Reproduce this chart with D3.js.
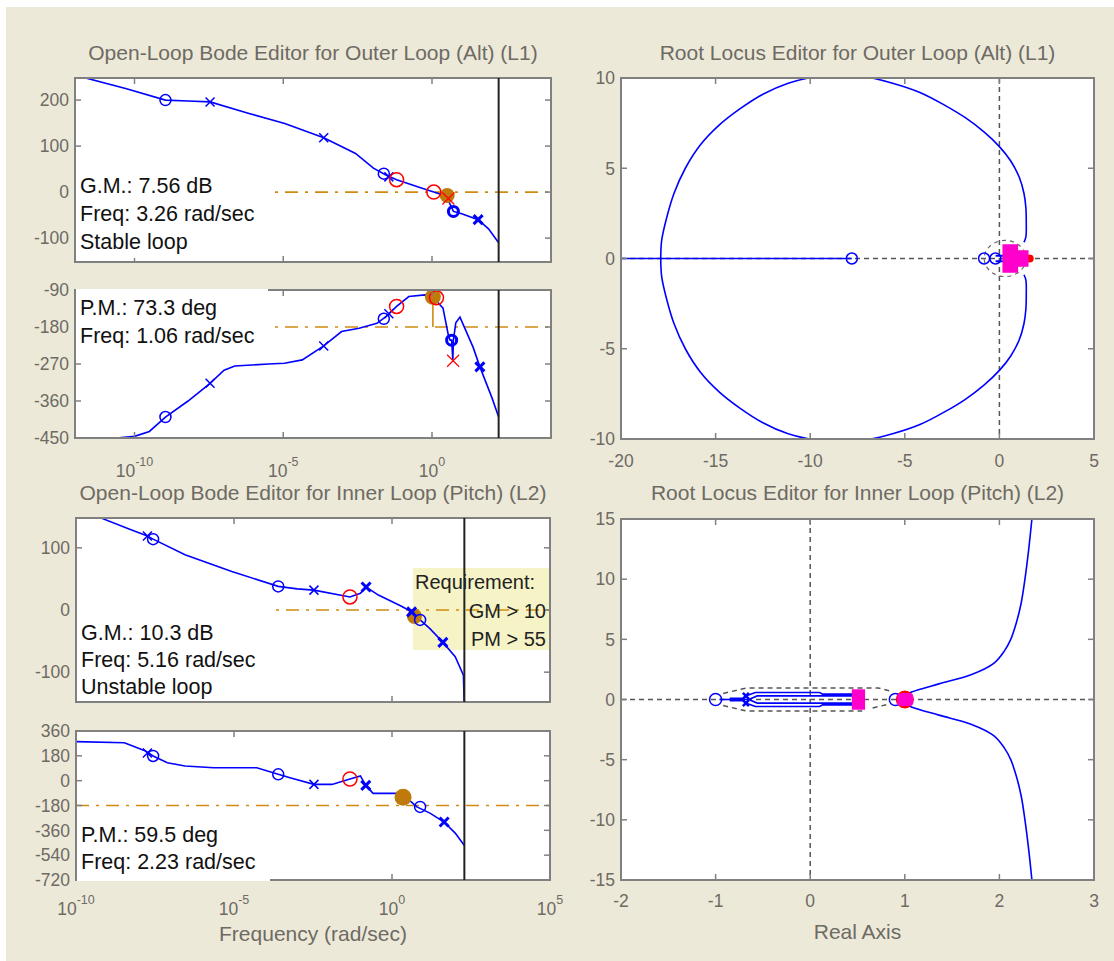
<!DOCTYPE html>
<html><head><meta charset="utf-8">
<script src="https://cdn.jsdelivr.net/npm/d3@7"></script>
<style>
body{margin:0;background:#ECE9D8;}
text{font-family:Arial,"Liberation Sans",sans-serif;}
</style>
</head><body>
<svg id="c" width="1114" height="961"></svg>
<script>
// ---------------- DATA ----------------
// Outer loop (L1) Bode magnitude: log10(freq rad/s), dB
const l1MagLogW = [-12.0, -11.58, -10.3, -8.96, -8.2, -7.46, -6.15, -4.95, -3.64, -2.57, -1.97, -1.55, -1.19, -0.18, 0.06, 0.48, 0.72, 1.0, 1.55, 1.9, 2.24];
const l1MagDb   = [255, 247, 225, 200, 198, 196, 171, 149, 118, 84, 52, 37, 27, 5, 0, -9, -42, -47, -60, -80, -110];
// Outer loop (L1) Bode phase: log10(freq), deg
const l1PhLogW = [-12.0, -10.6, -10.0, -9.5, -8.96, -8.2, -7.46, -6.99, -6.63, -5.5, -4.96, -4.36, -3.64, -3.04, -2.45, -1.85, -1.55, -1.19, -0.78, -0.24, 0.03, 0.37, 0.55, 0.61, 0.66, 0.70, 0.72, 0.80, 0.94, 1.38, 1.61, 2.02, 2.24];
const l1PhDeg  = [-450, -450, -446, -434, -399, -360, -317, -285, -275, -270, -268, -260, -226, -191, -183, -171, -155, -130, -106, -102, -107, -134, -200, -212, -212, -260, -212, -170, -156, -229, -277, -353, -399];
// L1 markers
const l1ZeroW = [-8.96, -1.62], l1ZeroMag = [200, 40], l1ZeroPh = [-399, -160];
const l1ZeroBoldW = [0.72], l1ZeroBoldMag = [-42], l1ZeroBoldPhW = [0.66], l1ZeroBoldPh = [-212];
const l1PoleW = [-7.46, -3.64, -1.45], l1PoleMag = [196, 118, 33], l1PolePh = [-317, -226, -148];
const l1PoleBoldW = [1.55], l1PoleBoldMag = [-60], l1PoleBoldPhW = [1.61], l1PoleBoldPh = [-277];
const l1CompZeroW = [-1.19, 0.06], l1CompZeroMag = [27, 0], l1CompZeroPhW = [-1.19, 0.15], l1CompZeroPh = [-130, -109];
const l1CompPoleW = [0.55], l1CompPoleMag = [-14], l1CompPolePhW = [0.71], l1CompPolePh = [-262];
const l1GmW = [0.51], l1GmDb = [-7.56];
const l1PmW = [0.03], l1PmDeg = [-106.7];
const l1NyqW = 2.24;

// Inner loop (L2) Bode magnitude
const l2MagLogW = [-10.0, -9.26, -8.3, -7.74, -7.56, -6.55, -5.07, -3.6, -3.0, -2.47, -1.33, -1.0, -0.82, -0.43, 0.3, 0.62, 0.89, 1.2, 1.61, 2.0, 2.26, 2.29];
const l2MagDb   = [175, 149, 130, 119, 114, 89, 62, 38, 34, 32, 21, 27, 37, 24, 6, -3, -16, -30, -52, -75, -105, -160];
// Inner loop (L2) Bode phase
const l2PhLogW = [-10.0, -8.47, -7.8, -7.56, -7.11, -6.55, -5.64, -4.28, -3.6, -3.2, -2.47, -1.9, -1.33, -1.0, -0.83, -0.6, 0.3, 0.59, 0.79, 1.2, 1.65, 2.0, 2.29];
const l2PhDeg  = [283, 275, 215, 179, 130, 106, 94, 94, 46, 20, -27, -27, 12, 34, -34, -92, -92, -150, -190, -235, -300, -380, -470];
// L2 markers
const l2ZeroW = [-7.56, -3.6, 0.89], l2ZeroMag = [114, 38, -16], l2ZeroPh = [179, 46, -190];
const l2PoleW = [-7.74, -2.47], l2PoleMag = [119, 32], l2PolePh = [200, -27];
const l2PoleBoldW = [-0.82, 0.62, 1.61], l2PoleBoldMag = [37, -3, -52];
const l2PoleBoldPhW = [-0.83, 1.65], l2PoleBoldPh = [-34, -300];
const l2CompZeroW = [-1.33], l2CompZeroMag = [21], l2CompZeroPh = [12];
const l2GmW = [0.71], l2GmDb = [-10.3];
const l2PmW = [0.35], l2PmDeg = [-120.5];
const l2NyqW = 2.29;

// Root locus L1 (upper half, mirrored)
const rl1Re = [1.3, 1.4, 1.42, 1.4, 1.3, 1.05, 0.6, 0.0, -0.8, -1.8, -2.9, -4.2, -5.6, -7.0, -8.4, -9.8, -11.2, -12.5, -13.7, -14.8, -15.8, -16.6, -17.2, -17.6, -17.85, -17.9];
const rl1Im = [0.9, 1.2, 2.0, 2.8, 3.6, 4.5, 5.4, 6.2, 7.0, 7.8, 8.5, 9.2, 9.7, 10.05, 10.2, 10.05, 9.7, 9.1, 8.3, 7.4, 6.3, 5.0, 3.6, 2.2, 1.0, 0];
const rl1RealRe = [-20, -7.8];
const rl1ZeroRe = [-7.8, -0.81, -0.21];
const rl1PinkRe = [0.2, 0.95, 0.95, 1.5, 1.5, 0.95, 0.95, 0.2];
const rl1PinkIm = [0.75, 0.75, 0.42, 0.42, -0.42, -0.42, -0.75, -0.75];

// Root locus L2
const rl2BranchRe = [1.0, 1.07, 1.36, 1.70, 1.94, 2.05, 2.12, 2.18, 2.23, 2.27, 2.31, 2.35];
const rl2BranchIm = [0.35, 0.62, 1.3, 2.05, 3.0, 4.0, 5.0, 6.4, 8.0, 10.0, 12.5, 15.5];
const rl2LoopOutRe = [-0.72, -0.66, -0.58, 0.1, 0.13, 0.5];
const rl2LoopOutIm = [0.05, 0.35, 0.58, 0.58, 0.45, 0.45];
const rl2LoopInRe = [-0.65, -0.56, 0.5];
const rl2LoopInIm = [0.0, 0.3, 0.3];
const rl2ZeroRe = [-1.0, 0.9];
const rl2PinkRe = [0.44, 0.58], rl2PinkIm = [-0.85, 0.85];

// Ticks
const bodeXTicks = [-10, -5, 0];
const bode2XTicks = [-10, -5, 0, 5];
const l1MagTicks = [-100, 0, 100, 200];
const l1PhTicks = [-450, -360, -270, -180, -90];
const l2MagTicks = [-100, 0, 100];
const l2PhTicks = [-720, -540, -360, -180, 0, 180, 360];
const rl1XTicks = [-20, -15, -10, -5, 0, 5];
const rl1YTicks = [-10, -5, 0, 5, 10];
const rl2XTicks = [-2, -1, 0, 1, 2, 3];
const rl2YTicks = [-15, -10, -5, 0, 5, 10, 15];

// ---------------- DRAW ----------------
const svg = d3.select('#c');
svg.append('rect').attr('width',1114).attr('height',961).attr('fill','#ffffff');
svg.append('rect').attr('x',6).attr('y',7).attr('width',1108).attr('height',954).attr('fill','#ECE9D8');

const BLUE='#0000FF', RED='#FF0000', ORANGE='#D08A10', ORANGEM='#C07A0C', PINK='#FF00CC', TXT='#6e6a64';
const TICKFS = 17.5, TITLEFS = 21, NOTEFS = 21.5, AXLFS = 21;

const P = {
  l1mag:{x0:75,x1:551,y0:78,y1:262},
  l1ph:{x0:75,x1:551,y0:290,y1:438},
  l2mag:{x0:76,x1:550,y0:518,y1:702},
  l2ph:{x0:76,x1:550,y0:731,y1:880},
  rl1:{x0:621,x1:1094,y0:78,y1:439},
  rl2:{x0:621,x1:1094,y0:519,y1:880}
};
let clipId=0;
function panel(p){
  const id='clip'+(clipId++);
  svg.append('clipPath').attr('id',id).append('rect')
    .attr('x',p.x0).attr('y',p.y0).attr('width',p.x1-p.x0).attr('height',p.y1-p.y0);
  svg.append('rect').attr('x',p.x0).attr('y',p.y0).attr('width',p.x1-p.x0).attr('height',p.y1-p.y0).attr('fill','#fff');
  return svg.append('g').attr('clip-path','url(#'+id+')');
}
function frame(p, xs, ys, xt, yt, xval){
  const g = svg.append('g');
  g.append('rect').attr('x',p.x0).attr('y',p.y0).attr('width',p.x1-p.x0).attr('height',p.y1-p.y0)
    .attr('fill','none').attr('stroke','#808080').attr('stroke-width',2);
  xt.forEach(t=>{
    const x = xs(xval(t));
    g.append('line').attr('x1',x).attr('x2',x).attr('y1',p.y1).attr('y2',p.y1-6).attr('stroke','#808080').attr('stroke-width',1.5);
    g.append('line').attr('x1',x).attr('x2',x).attr('y1',p.y0).attr('y2',p.y0+6).attr('stroke','#808080').attr('stroke-width',1.5);
  });
  yt.forEach(t=>{
    const y = ys(t);
    g.append('line').attr('x1',p.x0).attr('x2',p.x0+6).attr('y1',y).attr('y2',y).attr('stroke','#808080').attr('stroke-width',1.5);
    g.append('line').attr('x1',p.x1).attr('x2',p.x1-6).attr('y1',y).attr('y2',y).attr('stroke','#808080').attr('stroke-width',1.5);
  });
}
function yLabels(p, ys, yt){
  yt.forEach(t=>{
    svg.append('text').attr('x',p.x0-6).attr('y',ys(t)).attr('dy','0.36em')
      .attr('text-anchor','end').attr('font-size',TICKFS).attr('fill',TXT).text(String(t));
  });
}
function title(p, y, s){
  svg.append('text').attr('x',(p.x0+p.x1)/2).attr('y',y).attr('text-anchor','middle')
    .attr('font-size',TITLEFS).attr('fill',TXT).text(s);
}
function zip(a,b){return a.map((v,i)=>[v,b[i]]);}
function circles(g, pts, r, color, sw){
  pts.forEach(d=>g.append('circle').attr('cx',d[0]).attr('cy',d[1]).attr('r',r)
    .attr('fill','none').attr('stroke',color).attr('stroke-width',sw));
}
function crosses(g, pts, s, color, sw){
  pts.forEach(d=>{
    g.append('path').attr('d',`M${d[0]-s},${d[1]-s}L${d[0]+s},${d[1]+s}M${d[0]-s},${d[1]+s}L${d[0]+s},${d[1]-s}`)
      .attr('stroke',color).attr('stroke-width',sw).attr('fill','none');
  });
}
function dashH(g, p, y){
  g.append('line').attr('x1',p.x0).attr('x2',p.x1).attr('y1',y).attr('y2',y)
    .attr('stroke',ORANGE).attr('stroke-width',1.6).attr('stroke-dasharray','13,7,3,7');
}

// ===== L1 Bode =====
const xL1 = d3.scaleLog().domain([1e-12,1e4]).range([P.l1mag.x0,P.l1mag.x1]);
const xw1 = v=>xL1(Math.pow(10,v));
const yL1m = d3.scaleLinear().domain([-152,248]).range([P.l1mag.y1,P.l1mag.y0]);
const yL1p = d3.scaleLinear().domain([-450,-90]).range([P.l1ph.y1,P.l1ph.y0]);
{
  const g = panel(P.l1mag);
  dashH(g, P.l1mag, yL1m(0));
  g.append('path').attr('d', d3.line().x(d=>xw1(d[0])).y(d=>yL1m(d[1]))(zip(l1MagLogW,l1MagDb)))
    .attr('fill','none').attr('stroke',BLUE).attr('stroke-width',1.6);
  circles(g, zip(l1ZeroW,l1ZeroMag).map(d=>[xw1(d[0]),yL1m(d[1])]), 5.5, BLUE, 1.5);
  circles(g, zip(l1ZeroBoldW,l1ZeroBoldMag).map(d=>[xw1(d[0]),yL1m(d[1])]), 5, BLUE, 3);
  crosses(g, zip(l1PoleW,l1PoleMag).map(d=>[xw1(d[0]),yL1m(d[1])]), 4.5, BLUE, 1.5);
  crosses(g, zip(l1PoleBoldW,l1PoleBoldMag).map(d=>[xw1(d[0]),yL1m(d[1])]), 4.5, BLUE, 3);
  zip(l1GmW,l1GmDb).forEach(d=>{
    g.append('line').attr('x1',xw1(d[0])).attr('x2',xw1(d[0])).attr('y1',yL1m(0)).attr('y2',yL1m(d[1])).attr('stroke',ORANGE).attr('stroke-width',1.5);
    g.append('circle').attr('cx',xw1(d[0])).attr('cy',yL1m(d[1])).attr('r',7.5).attr('fill',ORANGEM);
  });
  circles(g, zip(l1CompZeroW,l1CompZeroMag).map(d=>[xw1(d[0]),yL1m(d[1])]), 7, RED, 1.5);
  crosses(g, zip(l1CompPoleW,l1CompPoleMag).map(d=>[xw1(d[0]),yL1m(d[1])]), 6, RED, 1.2);
}
{
  const g = panel(P.l1ph);
  dashH(g, P.l1ph, yL1p(-180));
  zip(l1PmW,l1PmDeg).forEach(d=>{
    g.append('line').attr('x1',xw1(d[0])).attr('x2',xw1(d[0])).attr('y1',yL1p(-180)).attr('y2',yL1p(d[1])).attr('stroke',ORANGE).attr('stroke-width',1.6);
  });
  g.append('path').attr('d', d3.line().x(d=>xw1(d[0])).y(d=>yL1p(d[1]))(zip(l1PhLogW,l1PhDeg)))
    .attr('fill','none').attr('stroke',BLUE).attr('stroke-width',1.6);
  zip(l1PmW,l1PmDeg).forEach(d=>{
    g.append('circle').attr('cx',xw1(d[0])).attr('cy',yL1p(d[1])).attr('r',8).attr('fill',ORANGEM);
  });
  circles(g, zip(l1ZeroW,l1ZeroPh).map(d=>[xw1(d[0]),yL1p(d[1])]), 5.5, BLUE, 1.5);
  circles(g, zip(l1ZeroBoldPhW,l1ZeroBoldPh).map(d=>[xw1(d[0]),yL1p(d[1])]), 5, BLUE, 3);
  crosses(g, zip(l1PoleW,l1PolePh).map(d=>[xw1(d[0]),yL1p(d[1])]), 4.5, BLUE, 1.5);
  crosses(g, zip(l1PoleBoldPhW,l1PoleBoldPh).map(d=>[xw1(d[0]),yL1p(d[1])]), 4.5, BLUE, 3);
  circles(g, zip(l1CompZeroPhW,l1CompZeroPh).map(d=>[xw1(d[0]),yL1p(d[1])]), 7, RED, 1.5);
  crosses(g, zip(l1CompPolePhW,l1CompPolePh).map(d=>[xw1(d[0]),yL1p(d[1])]), 6, RED, 1.2);
}
frame(P.l1mag, xL1, yL1m, bodeXTicks, l1MagTicks, t=>Math.pow(10,t));
frame(P.l1ph, xL1, yL1p, bodeXTicks, l1PhTicks, t=>Math.pow(10,t));
[P.l1mag,P.l1ph].forEach(p=>svg.append('line').attr('x1',xw1(l1NyqW)).attr('x2',xw1(l1NyqW)).attr('y1',p.y0).attr('y2',p.y1).attr('stroke','#222').attr('stroke-width',2));
yLabels(P.l1mag, yL1m, l1MagTicks);
yLabels(P.l1ph, yL1p, l1PhTicks);
title(P.l1mag, 60, 'Open-Loop Bode Editor for Outer Loop (Alt) (L1)');

// ===== L2 Bode =====
const xL2 = d3.scaleLog().domain([1e-10,1e5]).range([P.l2mag.x0,P.l2mag.x1]);
const xw2 = v=>xL2(Math.pow(10,v));
const yL2m = d3.scaleLinear().domain([-148,148]).range([P.l2mag.y1,P.l2mag.y0]);
const yL2p = d3.scaleLinear().domain([-720,360]).range([P.l2ph.y1,P.l2ph.y0]);
svg.append('rect').attr('x',413).attr('y',568).attr('width',P.l2mag.x1-413).attr('height',82).attr('fill','#F6F4C6');
{
  const g = panel(P.l2mag);
  g.append('rect').attr('x',413).attr('y',568).attr('width',P.l2mag.x1-413).attr('height',82).attr('fill','#F6F4C6');
  dashH(g, P.l2mag, yL2m(0));
  g.append('path').attr('d', d3.line().x(d=>xw2(d[0])).y(d=>yL2m(d[1]))(zip(l2MagLogW,l2MagDb)))
    .attr('fill','none').attr('stroke',BLUE).attr('stroke-width',1.6);
  zip(l2GmW,l2GmDb).forEach(d=>{
    g.append('circle').attr('cx',xw2(d[0])).attr('cy',yL2m(d[1])).attr('r',7.5).attr('fill',ORANGEM);
  });
  circles(g, zip(l2ZeroW,l2ZeroMag).map(d=>[xw2(d[0]),yL2m(d[1])]), 5.5, BLUE, 1.5);
  crosses(g, zip(l2PoleW,l2PoleMag).map(d=>[xw2(d[0]),yL2m(d[1])]), 4.5, BLUE, 1.5);
  crosses(g, zip(l2PoleBoldW,l2PoleBoldMag).map(d=>[xw2(d[0]),yL2m(d[1])]), 4.5, BLUE, 3);
  circles(g, zip(l2CompZeroW,l2CompZeroMag).map(d=>[xw2(d[0]),yL2m(d[1])]), 7, RED, 1.5);
}
{
  const g = panel(P.l2ph);
  dashH(g, P.l2ph, yL2p(-180));
  g.append('path').attr('d', d3.line().x(d=>xw2(d[0])).y(d=>yL2p(d[1]))(zip(l2PhLogW,l2PhDeg)))
    .attr('fill','none').attr('stroke',BLUE).attr('stroke-width',1.6);
  zip(l2PmW,l2PmDeg).forEach(d=>{
    g.append('circle').attr('cx',xw2(d[0])).attr('cy',yL2p(d[1])).attr('r',8.5).attr('fill',ORANGEM);
  });
  circles(g, zip(l2ZeroW,l2ZeroPh).map(d=>[xw2(d[0]),yL2p(d[1])]), 5.5, BLUE, 1.5);
  crosses(g, zip(l2PoleW,l2PolePh).map(d=>[xw2(d[0]),yL2p(d[1])]), 4.5, BLUE, 1.5);
  crosses(g, zip(l2PoleBoldPhW,l2PoleBoldPh).map(d=>[xw2(d[0]),yL2p(d[1])]), 4.5, BLUE, 3);
  circles(g, zip(l2CompZeroW,l2CompZeroPh).map(d=>[xw2(d[0]),yL2p(d[1])]), 7, RED, 1.5);
}
frame(P.l2mag, xL2, yL2m, bode2XTicks, l2MagTicks, t=>Math.pow(10,t));
frame(P.l2ph, xL2, yL2p, bode2XTicks, l2PhTicks, t=>Math.pow(10,t));
[P.l2mag,P.l2ph].forEach(p=>svg.append('line').attr('x1',xw2(l2NyqW)).attr('x2',xw2(l2NyqW)).attr('y1',p.y0).attr('y2',p.y1).attr('stroke','#222').attr('stroke-width',2));
yLabels(P.l2mag, yL2m, l2MagTicks);
yLabels(P.l2ph, yL2p, l2PhTicks);
title(P.l2mag, 500, 'Open-Loop Bode Editor for Inner Loop (Pitch) (L2)');

// requirement text
svg.append('text').attr('x',415).attr('y',589).attr('font-size',20).attr('fill','#222').text('Requirement:');
svg.append('text').attr('x',546).attr('y',618).attr('text-anchor','end').attr('font-size',20).attr('fill','#222').text('GM > 10');
svg.append('text').attr('x',546).attr('y',646).attr('text-anchor','end').attr('font-size',20).attr('fill','#222').text('PM > 55');

// log tick labels
function logLabels(xs, ticks, yBase){
  ticks.forEach(t=>{
    const tx = svg.append('text').attr('x',xs(Math.pow(10,t))).attr('y',yBase).attr('text-anchor','middle')
      .attr('font-size',TICKFS).attr('fill',TXT);
    tx.append('tspan').text('10');
    tx.append('tspan').attr('dy',-11).attr('font-size',12.5).text(String(t));
  });
}
logLabels(xL1, bodeXTicks, 477);
logLabels(xL2, bode2XTicks, 915);
svg.append('text').attr('x',(P.l2ph.x0+P.l2ph.x1)/2).attr('y',941).attr('text-anchor','middle')
  .attr('font-size',AXLFS).attr('fill',TXT).text('Frequency (rad/sec)');

// annotation boxes
function note(x, y, w, h, lines, base, step){
  svg.append('rect').attr('x',x).attr('y',y).attr('width',w).attr('height',h).attr('fill','#fff');
  lines.forEach((s,i)=>svg.append('text').attr('x',x+4).attr('y',base+i*step).attr('font-size',NOTEFS).attr('fill','#111').text(s));
}
note(76,171,192,87,['G.M.: 7.56 dB','Freq: 3.26 rad/sec','Stable loop'],193,28);
note(76,289,192,62,['P.M.: 73.3 deg','Freq: 1.06 rad/sec'],315,28);
note(77,606,193,95,['G.M.: 10.3 dB','Freq: 5.16 rad/sec','Unstable loop'],640,27);
note(77,821,193,60,['P.M.: 59.5 deg','Freq: 2.23 rad/sec'],842,27);

// ===== Root locus L1 =====
const xR1 = d3.scaleLinear().domain([-20,5]).range([P.rl1.x0,P.rl1.x1]);
const yR1 = d3.scaleLinear().domain([-10,10]).range([P.rl1.y1,P.rl1.y0]);
{
  const g = panel(P.rl1);
  const dash = {stroke:'#555', w:1.5, d:'5,4'};
  g.append('line').attr('x1',xR1(-20)).attr('x2',xR1(5)).attr('y1',yR1(0)).attr('y2',yR1(0)).attr('stroke',dash.stroke).attr('stroke-width',dash.w).attr('stroke-dasharray',dash.d);
  g.append('line').attr('x1',xR1(0)).attr('x2',xR1(0)).attr('y1',yR1(10)).attr('y2',yR1(-10)).attr('stroke',dash.stroke).attr('stroke-width',dash.w).attr('stroke-dasharray',dash.d);
  g.append('ellipse').attr('cx',xR1(0.3)).attr('cy',yR1(0)).attr('rx',xR1(1.1)-xR1(0)).attr('ry',yR1(0)-yR1(1.0))
    .attr('fill','none').attr('stroke','#666').attr('stroke-width',1.2).attr('stroke-dasharray','4,4');
  const up = zip(rl1Re, rl1Im);
  const lo = zip(rl1Re, rl1Im.map(v=>-v));
  const lgS = d3.line().x(d=>xR1(d[0])).y(d=>yR1(d[1])).curve(d3.curveCatmullRom.alpha(0.5));
  const lg = d3.line().x(d=>xR1(d[0])).y(d=>yR1(d[1]));
  g.append('path').attr('d',lgS(up)).attr('fill','none').attr('stroke',BLUE).attr('stroke-width',1.6);
  g.append('path').attr('d',lgS(lo)).attr('fill','none').attr('stroke',BLUE).attr('stroke-width',1.6);
  g.append('path').attr('d',lg(rl1RealRe.map(v=>[v,0]))).attr('fill','none').attr('stroke',BLUE).attr('stroke-width',1.6);
  g.append('path').attr('d',lg([[-0.2,0.15],[0.3,0.15]])+lg([[-0.2,-0.15],[0.3,-0.15]])).attr('fill','none').attr('stroke',BLUE).attr('stroke-width',2);
  circles(g, rl1ZeroRe.map(v=>[xR1(v),yR1(0)]), 5.5, BLUE, 1.5);
  g.append('circle').attr('cx',xR1(1.6)).attr('cy',yR1(0)).attr('r',4).attr('fill',RED);
  g.append('path').attr('d',lg(zip(rl1PinkRe,rl1PinkIm))+'Z').attr('fill',PINK).attr('stroke',PINK).attr('stroke-width',1.5);
}
frame(P.rl1, xR1, yR1, rl1XTicks, rl1YTicks, t=>t);
yLabels(P.rl1, yR1, rl1YTicks);
rl1XTicks.forEach(t=>svg.append('text').attr('x',xR1(t)).attr('y',467).attr('text-anchor','middle').attr('font-size',TICKFS).attr('fill',TXT).text(t));
title(P.rl1, 60, 'Root Locus Editor for Outer Loop (Alt) (L1)');

// ===== Root locus L2 =====
const xR2 = d3.scaleLinear().domain([-2,3]).range([P.rl2.x0,P.rl2.x1]);
const yR2 = d3.scaleLinear().domain([-15,15]).range([P.rl2.y1,P.rl2.y0]);
{
  const g = panel(P.rl2);
  const lg = d3.line().x(d=>xR2(d[0])).y(d=>yR2(d[1]));
  const lgS = d3.line().x(d=>xR2(d[0])).y(d=>yR2(d[1])).curve(d3.curveCatmullRom.alpha(0.5));
  const ds = sel=>sel.attr('fill','none').attr('stroke','#555').attr('stroke-width',1.5).attr('stroke-dasharray','5,4');
  ds(g.append('line').attr('x1',xR2(-2)).attr('x2',xR2(3)).attr('y1',yR2(0)).attr('y2',yR2(0)));
  ds(g.append('line').attr('x1',xR2(0)).attr('x2',xR2(0)).attr('y1',yR2(15)).attr('y2',yR2(-15)));
  ds(g.append('path').attr('d',lg([[-0.92,0.5],[-0.68,0.95],[0.72,0.95],[0.85,0.7]])));
  ds(g.append('path').attr('d',lg([[-0.92,-0.5],[-0.68,-0.95],[0.55,-0.95]])));
  ds(g.append('path').attr('d',lg([[0.66,-0.7],[0.85,-0.35]])));
  const bl = sel=>sel.attr('fill','none').attr('stroke',BLUE).attr('stroke-width',1.6);
  bl(g.append('path').attr('d',lgS(zip(rl2BranchRe,rl2BranchIm))));
  bl(g.append('path').attr('d',lgS(zip(rl2BranchRe,rl2BranchIm.map(v=>-v)))));
  bl(g.append('path').attr('d',lg(zip(rl2LoopOutRe,rl2LoopOutIm))));
  bl(g.append('path').attr('d',lg(zip(rl2LoopOutRe,rl2LoopOutIm.map(v=>-v)))));
  bl(g.append('path').attr('d',lg(zip(rl2LoopInRe,rl2LoopInIm))));
  bl(g.append('path').attr('d',lg(zip(rl2LoopInRe,rl2LoopInIm.map(v=>-v)))));
  bl(g.append('path').attr('d',lg([[-0.96,0],[-0.65,0]])));
  g.append('path').attr('d',lg([[-0.85,0],[-0.72,0]])).attr('stroke',BLUE).attr('stroke-width',4);
  crosses(g, [[xR2(-0.68),yR2(0.3)],[xR2(-0.68),yR2(-0.3)]], 3, BLUE, 2.5);
  circles(g, rl2ZeroRe.map(v=>[xR2(v),yR2(0)]), 6, BLUE, 1.5);
  g.append('rect').attr('x',xR2(rl2PinkRe[0])).attr('y',yR2(rl2PinkIm[1])).attr('width',xR2(rl2PinkRe[1])-xR2(rl2PinkRe[0])).attr('height',yR2(rl2PinkIm[0])-yR2(rl2PinkIm[1])).attr('fill',PINK);
  g.append('circle').attr('cx',xR2(1.0)).attr('cy',yR2(0)).attr('r',9).attr('fill',RED);
  g.append('rect').attr('x',xR2(0.92)).attr('y',yR2(0.55)).attr('width',xR2(1.09)-xR2(0.92)).attr('height',yR2(-0.55)-yR2(0.55)).attr('rx',4).attr('fill',PINK);
}
frame(P.rl2, xR2, yR2, rl2XTicks, rl2YTicks, t=>t);
yLabels(P.rl2, yR2, rl2YTicks);
rl2XTicks.forEach(t=>svg.append('text').attr('x',xR2(t)).attr('y',907).attr('text-anchor','middle').attr('font-size',TICKFS).attr('fill',TXT).text(t));
title(P.rl2, 500, 'Root Locus Editor for Inner Loop (Pitch) (L2)');
svg.append('text').attr('x',(P.rl2.x0+P.rl2.x1)/2).attr('y',939).attr('text-anchor','middle').attr('font-size',AXLFS).attr('fill',TXT).text('Real Axis');
</script>
</body></html>
